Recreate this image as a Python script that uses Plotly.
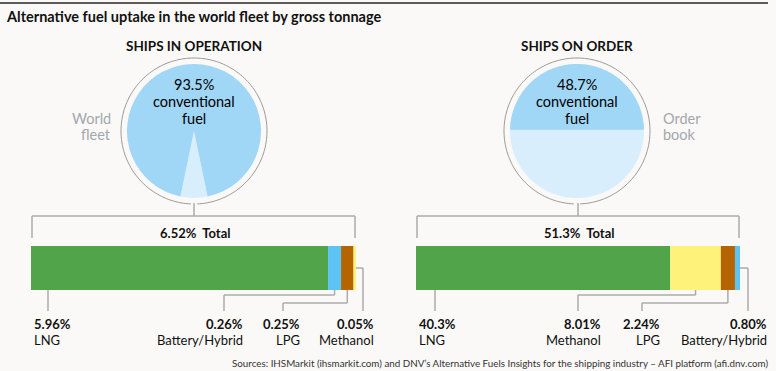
import numpy as np
import plotly.graph_objects as go

W, H = 776, 371

# ---------------- data ----------------
title = "Alternative fuel uptake in the world fleet by gross tonnage"
panel_titles = ["SHIPS IN OPERATION", "SHIPS ON ORDER"]
conventional_pct = [93.5, 48.7]
side_labels = [["World", "fleet"], ["Order", "book"]]

left_fuels = ["LNG", "Battery/Hybrid", "LPG", "Methanol"]
left_values = [5.96, 0.26, 0.25, 0.05]
left_value_labels = ["5.96%", "0.26%", "0.25%", "0.05%"]
left_total_label = "6.52%"

right_fuels = ["LNG", "Methanol", "LPG", "Battery/Hybrid"]
right_values = [40.3, 8.01, 2.24, 0.80]
right_value_labels = ["40.3%", "8.01%", "2.24%", "0.80%"]
right_total_label = "51.3%"

source_text = ("Sources: IHSMarkit (ihsmarkit.com) and DNV\u2019s Alternative Fuels Insights "
               "for the shipping industry \u2013 AFI platform (afi.dnv.com)")

# ---------------- style ----------------
FONT = "Lato"
BG = "#faf9f7"
DARK_BLUE = "#a0d6f6"
LIGHT_BLUE = "#d9eefc"
RING = "#9a9a9a"
LEAD = "#ababab"
fuel_colors = {"LNG": "#52a44b", "Battery/Hybrid": "#5cc3f2",
               "LPG": "#b46500", "Methanol": "#fff27a"}

centers = [(194, 131), (577, 131)]
R_PIE, R_RING = 67, 73
bar_px = [(31, 356), (416, 740)]
BAR_TOP, BAR_BOT = 246, 290

fig = go.Figure()


def xd(px):
    return px / W


def yd(py):
    return 1 - py / H


# main pixel axes (overlay for decoration)
fig.update_layout(
    xaxis=dict(range=[0, W], domain=[0, 1], visible=False, fixedrange=True),
    yaxis=dict(range=[H, 0], domain=[0, 1], visible=False, fixedrange=True),
)
fig.add_trace(go.Scatter(x=[0], y=[0], mode="markers", marker=dict(opacity=0),
                         hoverinfo="skip", showlegend=False))

# ---------- left pie (wedge) ----------
cx, cy = centers[0]
alt_share = 100 - conventional_pct[0]
fig.add_trace(go.Pie(
    values=[alt_share, conventional_pct[0]],
    marker=dict(colors=[LIGHT_BLUE, DARK_BLUE], line=dict(width=0)),
    sort=False, direction="clockwise",
    rotation=180 - alt_share * 3.6 / 2,
    textinfo="none", hoverinfo="skip", showlegend=False,
    domain=dict(x=[xd(cx - R_PIE), xd(cx + R_PIE)], y=[yd(cy + R_PIE), yd(cy - R_PIE)]),
))

# ---------- right circle (liquid level segment) ----------
cx2, cy2 = centers[1]
frac = conventional_pct[1] / 100.0


def seg_frac(d):
    return (np.arccos(d) - d * np.sqrt(1 - d * d)) / np.pi


lo, hi = -1.0, 1.0
for _ in range(60):
    mid = (lo + hi) / 2
    if seg_frac(mid) > frac:
        lo = mid
    else:
        hi = mid
d = (lo + hi) / 2
t = np.linspace(0, 2 * np.pi, 241)
fig.add_trace(go.Scatter(x=np.cos(t), y=np.sin(t), fill="toself", fillcolor=LIGHT_BLUE,
                         mode="none", hoverinfo="skip", showlegend=False,
                         xaxis="x3", yaxis="y3"))
th0 = np.arcsin(d)
ts = np.linspace(th0, np.pi - th0, 181)
fig.add_trace(go.Scatter(x=np.cos(ts), y=np.sin(ts), fill="toself", fillcolor=DARK_BLUE,
                         mode="none", hoverinfo="skip", showlegend=False,
                         xaxis="x3", yaxis="y3"))
fig.update_layout(
    xaxis3=dict(range=[-1, 1], domain=[xd(cx2 - R_PIE), xd(cx2 + R_PIE)], visible=False,
                anchor="y3", fixedrange=True),
    yaxis3=dict(range=[-1, 1], domain=[yd(cy2 + R_PIE), yd(cy2 - R_PIE)], visible=False,
                anchor="x3", fixedrange=True),
)

# ---------- bars ----------
bar_sets = [(left_fuels, left_values), (right_fuels, right_values)]
axis_names = [("x2", "y2"), ("x4", "y4")]
for (fuels, vals), (xa, ya), (p0, p1) in zip(bar_sets, axis_names, bar_px):
    bases = np.concatenate([[0], np.cumsum(vals)[:-1]])
    fig.add_trace(go.Bar(
        orientation="h", y=[0] * len(vals), x=vals, base=bases, width=1,
        marker=dict(color=[fuel_colors[f] for f in fuels], line=dict(width=0)),
        hoverinfo="skip", showlegend=False, xaxis=xa, yaxis=ya,
    ))
    ax_key = "xaxis" + xa[1:]
    ay_key = "yaxis" + ya[1:]
    fig.update_layout(**{
        ax_key: dict(range=[0, sum(vals)], domain=[xd(p0), xd(p1)], visible=False,
                     anchor=ya, fixedrange=True),
        ay_key: dict(range=[-0.5, 0.5], domain=[yd(BAR_BOT), yd(BAR_TOP)], visible=False,
                     anchor=xa, fixedrange=True),
    })


def val_px(side, v):
    p0, p1 = bar_px[side]
    tot = sum(bar_sets[side][1])
    return p0 + v / tot * (p1 - p0)


shapes = []


def line(x0, y0, x1, y1, color=LEAD, width=1.5):
    shapes.append(dict(type="line", xref="x", yref="y", x0=x0, y0=y0, x1=x1, y1=y1,
                       line=dict(color=color, width=width)))


# top rule
line(0, 3, 768, 3, color="#5a5a5a", width=2)

# rings (with a small gap at the bottom where the stub leaves), stubs, brackets
for side, (cx_, cy_) in enumerate(centers):
    sx = cx_ + (1 if side else 0)
    gap = np.radians(2.5)
    angs = np.linspace(np.pi / 2 + gap, np.pi / 2 + 2 * np.pi - gap, 181)
    path = "M " + " L ".join(f"{cx_ + R_RING * np.cos(a):.2f},{cy_ + R_RING * np.sin(a):.2f}"
                             for a in angs)
    shapes.append(dict(type="path", xref="x", yref="y", path=path,
                       line=dict(color=RING, width=1)))
    p0, p1 = bar_px[side]
    line(sx, cy_ + R_RING - 1, sx, 216)
    line(p0 + 1, 216, p1 - 1, 216)
    line(p0 + 1, 216, p0 + 1, 238)
    line(p1 - 1, 216, p1 - 1, 238)

# leaders: (kind, line x, elbow y)
LABEL_BOTTOM = 311
leaders = [
    [("down", 48, None), ("elbow", 224, 295), ("elbow", 283, 303), ("side", 363, None)],
    [("down", 435, None), ("elbow", 578, 295), ("elbow", 642, 303), ("side", 748, None)],
]
for side, specs in enumerate(leaders):
    vals = bar_sets[side][1]
    cums = np.cumsum(vals)
    for i, (kind, lx, ey) in enumerate(specs):
        if kind == "down":
            line(lx, BAR_BOT, lx, LABEL_BOTTOM)
        elif kind == "elbow":
            mx = val_px(side, cums[i] - vals[i] / 2)
            line(mx, BAR_BOT, mx, ey)
            line(mx, ey, lx, ey)
            line(lx, ey, lx, LABEL_BOTTOM)
        else:
            ex = val_px(side, cums[i])
            ym = (BAR_TOP + BAR_BOT) / 2
            line(ex, ym, lx, ym)
            line(lx, ym, lx, LABEL_BOTTOM)

fig.update_layout(shapes=shapes)

# ---------- annotations ----------
ann = []


def text(x, y, s, size=13, color="#111111", xanchor="center", bold=False):
    ann.append(dict(x=x, y=y, xref="x", yref="y", text=f"<b>{s}</b>" if bold else s,
                    showarrow=False, xanchor=xanchor, yanchor="middle",
                    font=dict(family=FONT, size=size, color=color)))


text(4, 16, title, size=14.5, xanchor="left", bold=True)

for side, (cx_, cy_) in enumerate(centers):
    text(cx_, 46, panel_titles[side], size=13.5, bold=True)
    text(cx_, 84, f"{conventional_pct[side]}%", size=14.5, color="#000000")
    text(cx_, 101, "conventional", size=14.5, color="#000000")
    text(cx_, 118, "fuel", size=14.5, color="#000000")

text(113, 118, side_labels[0][0], size=14.5, color="#a3a7ad", xanchor="right")
text(113, 134, side_labels[0][1], size=14.5, color="#a3a7ad", xanchor="right")
text(661, 118, side_labels[1][0], size=14.5, color="#a3a7ad", xanchor="left")
text(661, 134, side_labels[1][1], size=14.5, color="#a3a7ad", xanchor="left")

text(195, 233, f"{left_total_label}&nbsp;&nbsp;Total", size=13, bold=True)
text(579, 233, f"{right_total_label}&nbsp;&nbsp;Total", size=13, bold=True)

label_pos = [
    [(32, "left"), (245, "right"), (302, "right"), (376, "right")],
    [(417, "left"), (603, "right"), (662, "right"), (769, "right")],
]
all_labels = [(left_fuels, left_value_labels), (right_fuels, right_value_labels)]
for side, (fuels, vlabels) in enumerate(all_labels):
    for (lx, anc), f, vl in zip(label_pos[side], fuels, vlabels):
        text(lx, 324, vl, size=13, xanchor=anc, bold=True)
        text(lx, 340, f, size=13, xanchor=anc)

text(770, 363, source_text, size=9.8, color="#333333", xanchor="right")

fig.update_layout(
    annotations=ann,
    width=W, height=H,
    margin=dict(l=0, r=0, t=0, b=0),
    paper_bgcolor=BG, plot_bgcolor=BG,
    barmode="overlay",
    showlegend=False,
)

fig.write_html("out.html", config={"displayModeBar": False},
               post_script="document.body.style.margin='0';document.body.style.background='%s';" % BG)
